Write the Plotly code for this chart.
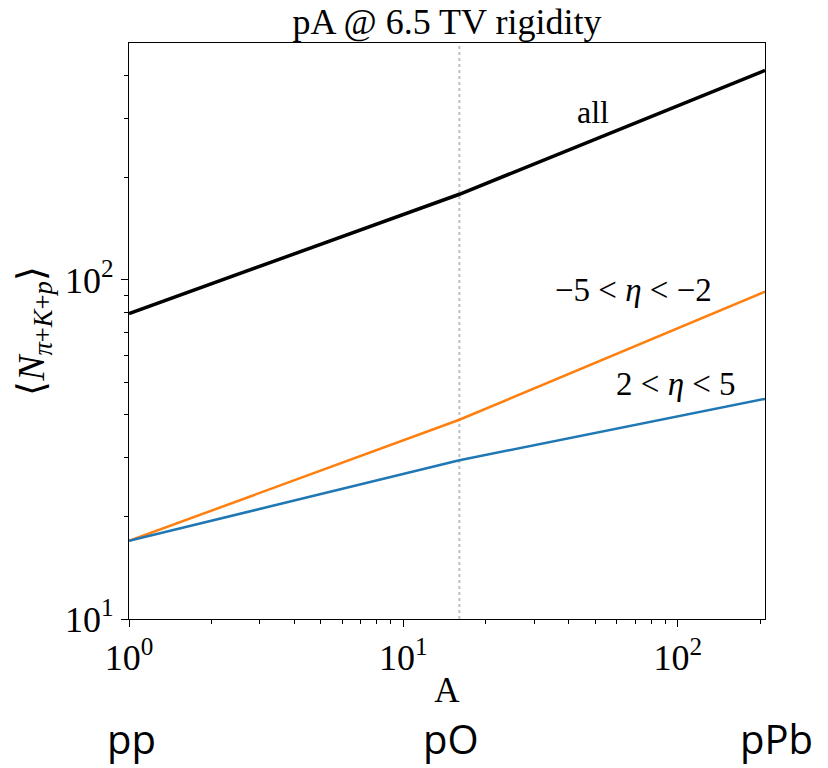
import plotly.graph_objects as go
import numpy as np

# Data
A_vals = [1, 16, 208]
n_all = [79.6, 179, 415]
n_back = [17.0, 38.7, 92.4]   # -5 < eta < -2
n_fwd = [17.0, 29.4, 44.6]    # 2 < eta < 5
pO_A = 16
y_range_vals = [10, 500]
x_range_vals = [1, 208]
system_labels = ["pp", "pO", "pPb"]

SERIF = "'Liberation Serif', 'Times New Roman', Times, serif"

fig = go.Figure()

fig.add_trace(go.Scatter(x=[pO_A, pO_A], y=y_range_vals, mode="lines",
                         line=dict(color="#c4c4c4", width=2.2, dash="dot"),
                         showlegend=False, hoverinfo="skip"))
fig.add_trace(go.Scatter(x=A_vals, y=n_all, mode="lines",
                         line=dict(color="black", width=3.5), showlegend=False))
fig.add_trace(go.Scatter(x=A_vals, y=n_back, mode="lines",
                         line=dict(color="#ff7f0e", width=2.5), showlegend=False))
fig.add_trace(go.Scatter(x=A_vals, y=n_fwd, mode="lines",
                         line=dict(color="#1f77b4", width=2.5), showlegend=False))

axis_common = dict(
    type="log", showline=True, linecolor="black", linewidth=1.3, mirror=True,
    ticks="outside", ticklen=7, tickwidth=1.3, tickcolor="black",
    showgrid=False, zeroline=False,
    tickfont=dict(family=SERIF, size=36, color="black"),
)

minor_x = [2, 3, 4, 5, 6, 7, 8, 9, 20, 30, 40, 50, 60, 70, 80, 90, 200]
minor_y = [20, 30, 40, 50, 60, 70, 80, 90, 200, 300, 400]

fig.update_xaxes(
    **axis_common,
    range=[np.log10(x_range_vals[0]), np.log10(x_range_vals[1])],
    tickvals=[1, 10, 100],
    ticktext=["10<sup>0</sup>", "10<sup>1</sup>", "10<sup>2</sup>"],
    minor=dict(tickvals=minor_x, ticks="outside", ticklen=4, tickwidth=1, tickcolor="black"),
    title=dict(text="A", font=dict(family=SERIF, size=35, color="black"), standoff=0),
)
fig.update_yaxes(
    **axis_common,
    range=[np.log10(y_range_vals[0]), np.log10(y_range_vals[1])],
    tickvals=[10, 100],
    ticktext=["10<sup>1</sup>", "10<sup>2</sup>"],
    minor=dict(tickvals=minor_y, ticks="outside", ticklen=4, tickwidth=1, tickcolor="black"),
    title=dict(text="⟨<i>N</i><sub><i>π</i>+<i>K</i>+<i>p</i></sub>⟩",
               font=dict(family=SERIF, size=38, color="black"), standoff=8),
)

ann_font = dict(family=SERIF, size=33, color="black")
fig.add_annotation(x=np.log10(49.2), y=np.log10(312), xref="x", yref="y",
                   text="all", showarrow=False, font=dict(family=SERIF, size=32, color="black"))
fig.add_annotation(x=np.log10(68.8), y=np.log10(93.5), xref="x", yref="y",
                   text="−5 < <i>η</i> < −2", showarrow=False, font=ann_font)
fig.add_annotation(x=np.log10(98.6), y=np.log10(49.4), xref="x", yref="y",
                   text="2 < <i>η</i> < 5", showarrow=False, font=ann_font)

# bottom system labels (paper coords)
L, R, T, B = 129, 765, 43, 619
def px_to_paper_x(px):
    return (px - L) / (R - L)
def py_to_paper_y(py):
    return (B - py) / (B - T)

lab_font = dict(family="Open Sans", size=40, color="black")
for lbl, cx in zip(system_labels, [131, 451, 776]):
    fig.add_annotation(x=px_to_paper_x(cx), y=py_to_paper_y(738), xref="paper", yref="paper",
                       text=lbl, showarrow=False, font=lab_font, xanchor="center", yanchor="middle")

fig.update_layout(
    width=828, height=768,
    margin=dict(l=L, r=828 - R, t=T, b=768 - B),
    paper_bgcolor="white", plot_bgcolor="white",
    font=dict(family=SERIF),
    title=dict(text="pA @ 6.5 TV rigidity", x=(L + R) / 2 / 828, xanchor="center",
               y=1 - 21 / 768, yanchor="middle",
               font=dict(family=SERIF, size=36, color="black")),
)

fig.write_html("out.html")
